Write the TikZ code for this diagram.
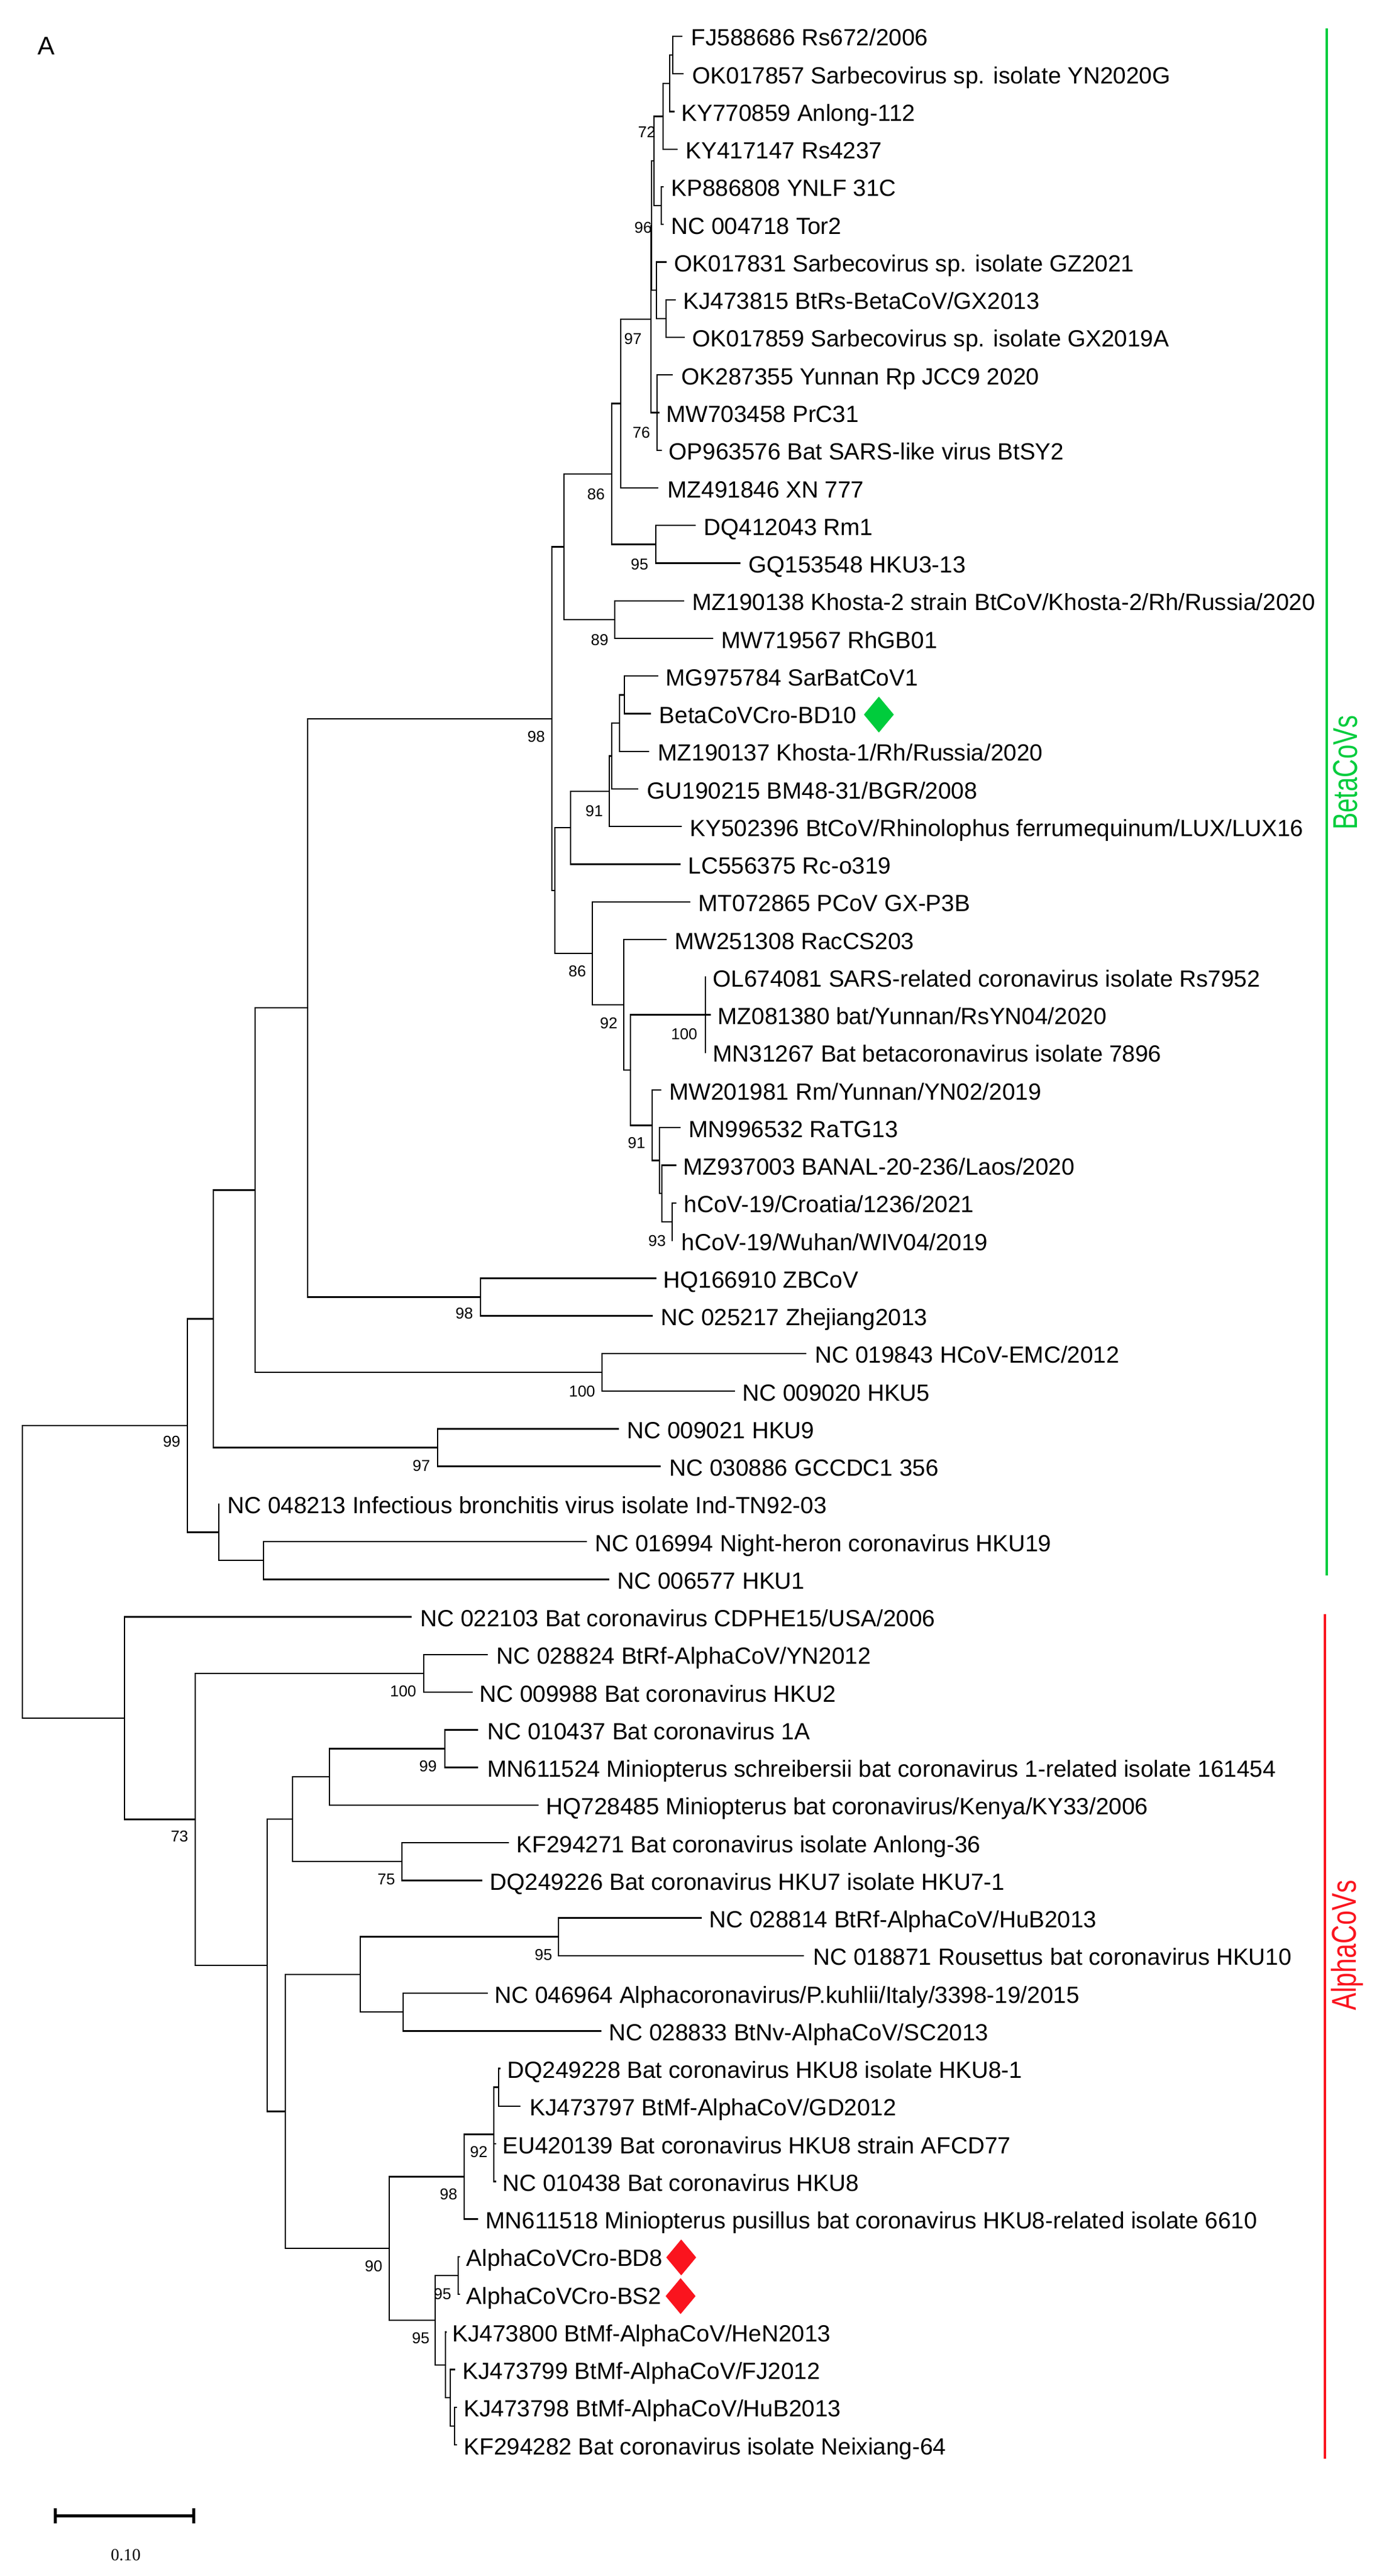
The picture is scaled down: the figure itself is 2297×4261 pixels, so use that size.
\documentclass[tikz,border=0pt]{standalone}
\usepackage{fontspec}
\setmainfont{Liberation Sans}
\newfontfamily\serifnum{Liberation Serif}
\usepackage{graphicx}
\usetikzlibrary{shapes.geometric,arrows.meta}
\definecolor{cladegreen}{RGB}{0,204,60}
\definecolor{cladered}{RGB}{250,20,30}
\newcommand\mytip[4]{%
  \coordinate (t#1) at (#2,{60+62.25*(#1-1)});
  \node[tip] (l#1) at (#3,{76+62.25*(#1-1)}) {#4};}
\newcommand\bsv[4]{\node[bs] (#1) at (#2,#3) {#4};}
\begin{document}
\begin{tikzpicture}[x=0.01cm,y=-0.01cm,
  br/.style={line width=0.7pt,line cap=rect},
  tip/.style={anchor=base west,inner sep=0pt,font=\fontsize{11}{13}\selectfont},
  bs/.style={inner sep=0pt,font=\fontsize{7.4}{9}\selectfont},
  mark diamond/.style={diamond,aspect=0.83,minimum width=0.5cm,minimum height=0.6cm,inner sep=0pt,draw=none},
  cladebar/.style={line width=1.15pt},
  cladelabel/.style={rotate=90,anchor=base,inner sep=0pt,font=\fontsize{16.2}{18}\selectfont}]
\fill[white] (0,0) rectangle (2297,4261);
\useasboundingbox (0,0) rectangle (2297,4261);

% ---- tips ----
\mytip{1}{1128}{1143}{FJ588686 Rs672/2006}
\mytip{2}{1130}{1145}{OK017857 Sarbecovirus sp. isolate YN2020G}
\mytip{3}{1115}{1127}{KY770859 Anlong-112}
\mytip{4}{1120}{1134}{KY417147 Rs4237}
\mytip{5}{1097}{1110}{KP886808 YNLF 31C}
\mytip{6}{1097}{1110}{NC 004718 Tor2}
\mytip{7}{1102}{1115}{OK017831 Sarbecovirus sp. isolate GZ2021}
\mytip{8}{1117}{1130}{KJ473815 BtRs-BetaCoV/GX2013}
\mytip{9}{1132}{1145}{OK017859 Sarbecovirus sp. isolate GX2019A}
\mytip{10}{1112}{1127}{OK287355 Yunnan Rp JCC9 2020}
\mytip{11}{1090}{1102}{MW703458 PrC31}
\mytip{12}{1094}{1106}{OP963576 Bat SARS-like virus BtSY2}
\mytip{13}{1088}{1104}{MZ491846 XN 777}
\mytip{14}{1150}{1164}{DQ412043 Rm1}
\mytip{15}{1224}{1238}{GQ153548 HKU3-13}
\mytip{16}{1131}{1145}{MZ190138 Khosta-2 strain BtCoV/Khosta-2/Rh/Russia/2020}
\mytip{17}{1179}{1193}{MW719567 RhGB01}
\mytip{18}{1088}{1101}{MG975784 SarBatCoV1}
\mytip{19}{1076}{1090}{BetaCoVCro-BD10}
\mytip{20}{1073}{1088}{MZ190137 Khosta-1/Rh/Russia/2020}
\mytip{21}{1055}{1070}{GU190215 BM48-31/BGR/2008}
\mytip{22}{1127}{1141}{KY502396 BtCoV/Rhinolophus ferrumequinum/LUX/LUX16}
\mytip{23}{1125}{1138}{LC556375 Rc-o319}
\mytip{24}{1141}{1155}{MT072865 PCoV GX-P3B}
\mytip{25}{1102}{1116}{MW251308 RacCS203}
\mytip{26}{1167}{1179}{OL674081 SARS-related coronavirus isolate Rs7952}
\mytip{27}{1175}{1187}{MZ081380 bat/Yunnan/RsYN04/2020}
\mytip{28}{1167}{1179}{MN31267 Bat betacoronavirus isolate 7896}
\mytip{29}{1093}{1107}{MW201981 Rm/Yunnan/YN02/2019}
\mytip{30}{1125}{1139}{MN996532 RaTG13}
\mytip{31}{1118}{1130}{MZ937003 BANAL-20-236/Laos/2020}
\mytip{32}{1118}{1131}{hCoV-19/Croatia/1236/2021}
\mytip{33}{1112}{1127}{hCoV-19/Wuhan/WIV04/2019}
\mytip{34}{1085}{1097}{HQ166910 ZBCoV}
\mytip{35}{1079}{1093}{NC 025217 Zhejiang2013}
\mytip{36}{1333}{1348}{NC 019843 HCoV-EMC/2012}
\mytip{37}{1215}{1228}{NC 009020 HKU5}
\mytip{38}{1023}{1037}{NC 009021 HKU9}
\mytip{39}{1092}{1107}{NC 030886 GCCDC1 356}
\mytip{40}{362}{376}{NC 048213 Infectious bronchitis virus isolate Ind-TN92-03}
\mytip{41}{970}{984}{NC 016994 Night-heron coronavirus HKU19}
\mytip{42}{1007}{1021}{NC 006577 HKU1}
\mytip{43}{680}{695}{NC 022103 Bat coronavirus CDPHE15/USA/2006}
\mytip{44}{806}{821}{NC 028824 BtRf-AlphaCoV/YN2012}
\mytip{45}{781}{793}{NC 009988 Bat coronavirus HKU2}
\mytip{46}{790}{806}{NC 010437 Bat coronavirus 1A}
\mytip{47}{790}{806}{MN611524 Miniopterus schreibersii bat coronavirus 1-related isolate 161454}
\mytip{48}{890}{903}{HQ728485 Miniopterus bat coronavirus/Kenya/KY33/2006}
\mytip{49}{841}{854}{KF294271 Bat coronavirus isolate Anlong-36}
\mytip{50}{797}{810}{DQ249226 Bat coronavirus HKU7 isolate HKU7-1}
\mytip{51}{1160}{1173}{NC 028814 BtRf-AlphaCoV/HuB2013}
\mytip{52}{1329}{1345}{NC 018871 Rousettus bat coronavirus HKU10}
\mytip{53}{806}{818}{NC 046964 Alphacoronavirus/P.kuhlii/Italy/3398-19/2015}
\mytip{54}{994}{1007}{NC 028833 BtNv-AlphaCoV/SC2013}
\mytip{55}{827}{839}{DQ249228 Bat coronavirus HKU8 isolate HKU8-1}
\mytip{56}{860}{876}{KJ473797 BtMf-AlphaCoV/GD2012}
\mytip{57}{820}{831}{EU420139 Bat coronavirus HKU8 strain AFCD77}
\mytip{58}{820}{831}{NC 010438 Bat coronavirus HKU8}
\mytip{59}{790}{803}{MN611518 Miniopterus pusillus bat coronavirus HKU8-related isolate 6610}
\mytip{60}{760}{771}{AlphaCoVCro-BD8}
\mytip{61}{760}{771}{AlphaCoVCro-BS2}
\mytip{62}{738}{748}{KJ473800 BtMf-AlphaCoV/HeN2013}
\mytip{63}{752}{765}{KJ473799 BtMf-AlphaCoV/FJ2012}
\mytip{64}{755}{767}{KJ473798 BtMf-AlphaCoV/HuB2013}
\mytip{65}{755}{767}{KF294282 Bat coronavirus isolate Neixiang-64}

% ---- internal nodes ----
\coordinate (N12) at (1113,91.1);
\coordinate (N123) at (1108,137.8);
\coordinate (N1234) at (1097,192.3);
\coordinate (N56) at (1094,340.1);
\coordinate (N72) at (1082,266.2);
\coordinate (N89) at (1102,526.9);
\coordinate (N789) at (1086,480.2);
\coordinate (N96) at (1078,373.2);
\coordinate (N76) at (1087,682.5);
\coordinate (N97) at (1077,527.9);
\coordinate (Nd) at (1027,667.4);
\coordinate (N95) at (1085,900.4);
\coordinate (N86) at (1012,783.9);
\coordinate (N89b) at (1017,1024.9);
\coordinate (Na) at (933,904.4);
\coordinate (N1819) at (1033,1149.4);
\coordinate (Ne) at (1025,1196.1);
\coordinate (Nf) at (1012,1250.5);
\coordinate (N91) at (1008,1308.9);
\coordinate (NC) at (944,1369.2);
\coordinate (N100) at (1167,1678.5);
\coordinate (N93) at (1112,2020.9);
\coordinate (Ni) at (1095,1974.2);
\coordinate (Nh) at (1091,1919.7);
\coordinate (N91b) at (1079,1861.4);
\coordinate (Ng) at (1043,1770);
\coordinate (N92) at (1032,1662);
\coordinate (N86b) at (980,1576.9);
\coordinate (NB) at (918,1473.1);
\coordinate (N98) at (913,1188.8);
\coordinate (N98b) at (795,2145.4);
\coordinate (N509) at (509,1667.1);
\coordinate (N100m) at (996,2269.9);
\coordinate (N422) at (422,1968.5);
\coordinate (N97b) at (724,2394.4);
\coordinate (N353) at (353,2181.5);
\coordinate (Nj) at (436,2581.1);
\coordinate (Nib) at (362,2534.4);
\coordinate (N310) at (310,2358);
\coordinate (root) at (37,2600);
\coordinate (N206) at (206,2842);
\coordinate (N73) at (323,3009.4);
\coordinate (N100c) at (701,2767.9);
\coordinate (N442) at (442,3250.9);
\coordinate (N484) at (484,3009.1);
\coordinate (N545) at (545,2939.1);
\coordinate (N99) at (736,2892.4);
\coordinate (N75) at (665,3079.1);
\coordinate (N472) at (472,3492.6);
\coordinate (N594) at (596,3265.9);
\coordinate (N95a) at (924,3203.6);
\coordinate (Nk) at (667,3328.1);
\coordinate (N90) at (644,3719.2);
\coordinate (N98c) at (768,3600.5);
\coordinate (N92a) at (817,3530.4);
\coordinate (Nl) at (825,3452.6);
\coordinate (N95b) at (720,3837.8);
\coordinate (N95c) at (758,3763.9);
\coordinate (Nm) at (737,3911.7);
\coordinate (Nn) at (745,3966.2);
\coordinate (No) at (752,4012.9);

% ---- branches ----
\foreach \p/\c in {N12/t1,N12/t2,N123/N12,N123/t3,N1234/N123,N1234/t4,N56/t5,N56/t6,
  N72/N1234,N72/N56,N89/t8,N89/t9,N789/t7,N789/N89,N96/N72,N96/N789,
  N76/t10,N76/t11,N76/t12,N97/N96,N97/N76,Nd/N97,Nd/t13,N95/t14,N95/t15,
  N86/Nd,N86/N95,N89b/t16,N89b/t17,Na/N86,Na/N89b,N1819/t18,N1819/t19,
  Ne/N1819,Ne/t20,Nf/Ne,Nf/t21,N91/Nf,N91/t22,NC/N91,NC/t23,
  N100/t26,N100/t27,N100/t28,N93/t32,N93/t33,Ni/t31,Ni/N93,Nh/t30,Nh/Ni,
  N91b/t29,N91b/Nh,Ng/N100,Ng/N91b,N92/t25,N92/Ng,N86b/t24,N86b/N92,
  NB/NC,NB/N86b,N98/Na,N98/NB,N98b/t34,N98b/t35,N509/N98,N509/N98b,
  N100m/t36,N100m/t37,N422/N509,N422/N100m,N97b/t38,N97b/t39,N353/N422,N353/N97b,
  Nj/t41,Nj/t42,Nib/t40,Nib/Nj,N310/N353,N310/Nib,root/N310,root/N206,
  N206/t43,N206/N73,N100c/t44,N100c/t45,N73/N100c,N73/N442,
  N99/t46,N99/t47,N545/N99,N545/t48,N75/t49,N75/t50,N484/N545,N484/N75,
  N95a/t51,N95a/t52,Nk/t53,Nk/t54,N594/N95a,N594/Nk,
  Nl/t55,Nl/t56,N92a/Nl,N92a/t57,N92a/t58,N98c/N92a,N98c/t59,
  N95c/t60,N95c/t61,No/t64,No/t65,Nn/t63,Nn/No,Nm/t62,Nm/Nn,
  N95b/N95c,N95b/Nm,N90/N98c,N90/N95b,N472/N594,N472/N90,N442/N484,N442/N472}
  {\draw[br] (\p) |- (\c);}

% ---- bootstrap values ----
\bsv{b1}{1070}{218}{72}
\bsv{b2}{1064}{377}{96}
\bsv{b3}{1047}{561}{97}
\bsv{b4}{1061}{716}{76}
\bsv{b5}{986}{818}{86}
\bsv{b6}{1058}{934}{95}
\bsv{b7}{992}{1059}{89}
\bsv{b8}{887}{1219}{98}
\bsv{b9}{983}{1342}{91}
\bsv{b10}{955}{1607}{86}
\bsv{b11}{1007}{1693}{92}
\bsv{b12}{1132}{1711}{100}
\bsv{b13}{1053}{1891}{91}
\bsv{b14}{1087}{2053}{93}
\bsv{b15}{768}{2173}{98}
\bsv{b16}{963}{2302}{100}
\bsv{b17}{284}{2385}{99}
\bsv{b18}{697}{2425}{97}
\bsv{b19}{667}{2798}{100}
\bsv{b20}{708}{2922}{99}
\bsv{b21}{297}{3038}{73}
\bsv{b22}{639}{3109}{75}
\bsv{b23}{899}{3234}{95}
\bsv{b24}{792}{3559}{92}
\bsv{b25}{742}{3629}{98}
\bsv{b26}{618}{3748}{90}
\bsv{b27}{732}{3794}{95}
\bsv{b28}{696}{3867}{95}

% ---- markers ----
\node[mark diamond,fill=cladegreen] (d19) at (1454,1182) {};
\node[mark diamond,fill=cladered] (d60) at (1127,3734) {};
\node[mark diamond,fill=cladered] (d61) at (1126,3798) {};

% ---- clade bars ----
\coordinate (g1) at (2195,47);
\coordinate (g2) at (2195,2606);
\draw[cladebar,draw=cladegreen] (g1) -- (g2);
\node[cladelabel,text=cladegreen] (gl) at (2245,1278) {\scalebox{0.74}[1]{BetaCoVs}};
\coordinate (r1) at (2192,2670);
\coordinate (r2) at (2192,4067);
\draw[cladebar,draw=cladered] (r1) -- (r2);
\node[cladelabel,text=cladered] (rl) at (2243,3218) {\scalebox{0.755}[1]{AlphaCoVs}};

% ---- panel letter ----
\node[inner sep=0pt,font=\fontsize{12}{14}\selectfont] (pA) at (77,76) {A};

% ---- scale bar ----
\coordinate (s1) at (89,4161);
\coordinate (s2) at (323,4161);
\draw[line width=1.4pt,{Bar[width=0.25cm]}-{Bar[width=0.25cm]}] (s1) -- (s2);
\node[inner sep=0pt,font=\serifnum\fontsize{8}{10}\selectfont] (sl) at (208,4226) {0.10};
\end{tikzpicture}
\end{document}
